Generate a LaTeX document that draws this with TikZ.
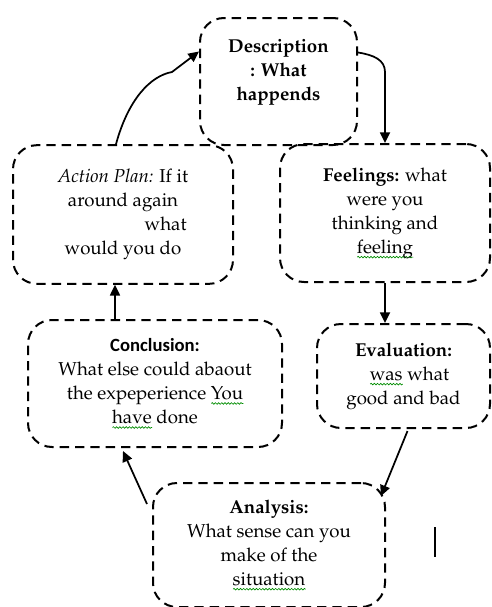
\documentclass[tikz,border=0pt]{standalone}
\usepackage{fontspec}
\newfontfamily\calibrifont{Carlito}
\usepackage[T1]{fontenc}
\renewcommand{\rmdefault}{ppl}
\usetikzlibrary{arrows.meta,calc,decorations.pathmorphing}

\newsavebox\spellbox
\newcommand\spellwave[1]{\sbox\spellbox{#1}\rlap{\tikz[baseline=0pt, x=1pt, y=1pt, sharp corners]\draw[solid, line width=0.5pt, green!55!black, decorate, decoration={snake,amplitude=0.6pt,segment length=2.4pt}] (0pt,-3pt) -- (\wd\spellbox,-3pt);}#1}

\begin{document}
\begin{tikzpicture}[
        x=0.75pt, y=-0.75pt,
        stage/.style={
            rectangle,
            draw,
            line width=1.5pt,
            dash pattern=on 7pt off 4.5pt,
            rounded corners=18pt,
            align=center,
            font=\fontsize{14}{18}\selectfont,
            inner sep=4pt
        },
        arrow/.style={-{Triangle[length=8pt,width=7.5pt]}, line width=1.3pt}
    ]

        \useasboundingbox (0,0) rectangle (492,607);

        \node[stage, minimum width=117.75pt, minimum height=95.25pt] (desc) at (278.5,81.5)
            {\textbf{Description}\\\textbf{: What}\\\textbf{happends}\\~};
        \node[stage, minimum width=165pt, minimum height=104pt] (act) at (123,214.5)
            {\textit{Action Plan:} If it\\around again\\\hspace*{64pt}what\\would you do};
        \node[stage, minimum width=157.5pt, minimum height=103.5pt] (feel) at (385,213)
            {\textbf{Feelings:} what\\were you\\thinking and\\\spellwave{feeling}};
        \node[stage, minimum width=190.5pt, minimum height=95.25pt] (conc) at (155,383.5)
            {{\calibrifont\bfseries Conclusion:}\\What else could abaout\\the expeperience \spellwave{You}\\\spellwave{have} done};
        \node[stage, minimum width=129.75pt, minimum height=78pt] (eval) at (403.5,376)
            {\textbf{Evaluation:}\\\hspace*{9pt}\spellwave{was} what\\good and bad};
        \node[stage, minimum width=174pt, minimum height=93pt] (ana) at (269,545)
            {\textbf{Analysis:}\\What sense can you\\make of the\\\spellwave{situation}};

        \draw[line width=1.3pt] (435,527) -- (435,557);

        \draw[arrow] ($(act.north)+(-7,0)$) .. controls (128,100) and (150,76) .. (172,72) -- ($(desc.west)+(0,-30)$);
        \draw[arrow] ($(desc.east)+(0,-29)$) .. controls (374,55) and (385,60) .. (385,72) -- (feel.north);
        \draw[arrow] (feel.south) -- (feel.south |- eval.north);
        \draw[arrow] ($(eval.south)+(4,2)$) -- ($(ana.north east)+(-5,14)$);
        \draw[arrow] ($(ana.north west)+(-5,22)$) -- ($(conc.south)+(-32,3)$);
        \draw[arrow] ($(conc.north)+(-40,0)$) -- ($(act.south)+(-8,0)$);

    \end{tikzpicture}
\end{document}
